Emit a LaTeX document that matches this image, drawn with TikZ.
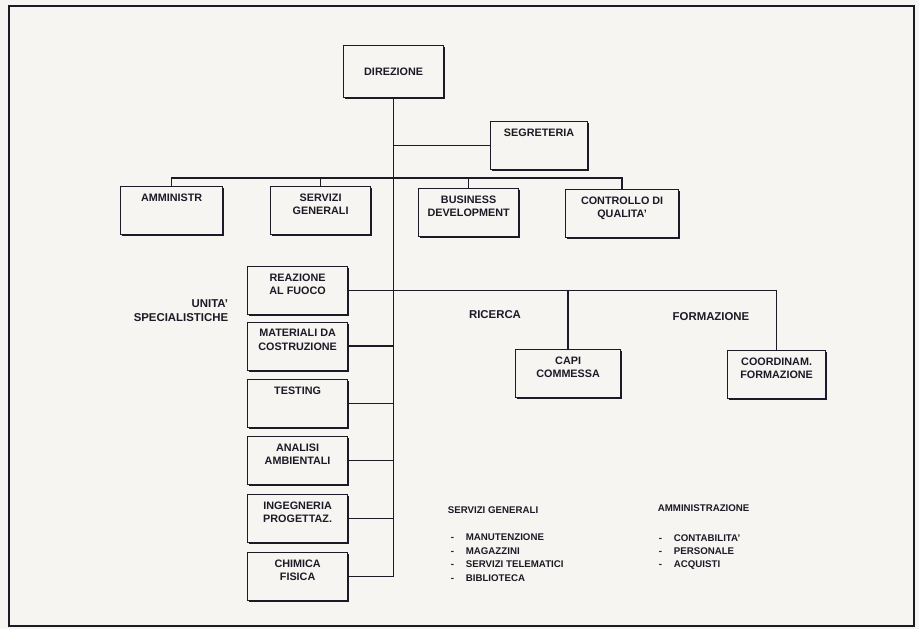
\documentclass[tikz,border=0pt]{standalone}
\usepackage{fontspec}
\setmainfont{Liberation Sans}
\usetikzlibrary{positioning,shadows}
\definecolor{paper}{RGB}{247,245,241}
\definecolor{ink}{RGB}{28,26,38}
\newcommand{\ut}[1]{\begin{tabular}[t]{@{}c@{}}#1\end{tabular}}
\newcommand{\lt}[1]{\begin{tabular}[t]{@{}l@{}}#1\end{tabular}}
\newcommand{\rt}[1]{\begin{tabular}[t]{@{}r@{}}#1\end{tabular}}
\newcommand{\dash}{\makebox[15pt][l]{-}}

\begin{document}
\begin{tikzpicture}[x=1pt,y=-1pt,line width=1.7pt,color=ink,
    unit/.style={draw,line width=1.2pt,fill=paper,anchor=north west,
      minimum width=100pt,minimum height=48pt,inner ysep=7pt,
      text height=7.8pt,text depth=26.2pt,
      font=\bfseries\fontsize{10.8}{13.2}\selectfont,
      general shadow={fill=ink,shadow xshift=1.6pt,shadow yshift=-1.6pt}},
    head/.style={unit,text depth=0pt,minimum height=52pt},
    lbl/.style={font=\bfseries\fontsize{11.4}{14}\selectfont,inner sep=0pt},
    lst/.style={font=\bfseries\fontsize{9.7}{13.5}\selectfont,inner sep=0pt,
      anchor=base west}]

    \fill[paper] (0,0) rectangle (919,629);
    \useasboundingbox (0,0) rectangle (919,629);
    \draw[line width=1.8pt] (9,6) rectangle (914,626);

    % vertici
    \node[head] (dir) at (343,45) {DIREZIONE};
    \node[unit,minimum width=97pt] (segr) at (490,121) {SEGRETERIA};

    \node[unit,minimum width=102pt] (amm) at (120,186) {AMMINISTR};
    \node[unit] (serv) at (270,186) {\ut{SERVIZI\\GENERALI}};
    \node[unit] (busi) at (418,188) {\ut{BUSINESS\\DEVELOPMENT}};
    \node[unit,minimum width=113pt] (ctrl) at (565,189) {\ut{CONTROLLO DI\\QUALITA'}};

    % unita' specialistiche
    \node[unit] (reaz) at (247,266) {\ut{REAZIONE\\AL FUOCO}};
    \node[unit] (mat) at (247,321.5) {\ut{MATERIALI DA\\COSTRUZIONE}};
    \node[unit] (test) at (247,379) {TESTING};
    \node[unit] (anal) at (247,436) {\ut{ANALISI\\AMBIENTALI}};
    \node[unit] (ing) at (247,494) {\ut{INGEGNERIA\\PROGETTAZ.}};
    \node[unit] (chim) at (247,552) {\ut{CHIMICA\\FISICA}};

    \node[unit,minimum width=105pt] (capi) at (515,349) {\ut{CAPI\\COMMESSA}};
    \node[unit,minimum width=98pt] (coord) at (727,350) {\ut{COORDINAM.\\FORMAZIONE}};

    % etichette
    \node[lbl,anchor=base east] (unita) at (229,307) {\rt{UNITA'\\SPECIALISTICHE}};
    \node[lbl] (ric) at (495,315) {RICERCA};
    \node[lbl] (form) at (711,317) {FORMAZIONE};

    \node[lst] (sgtit) at (447,513.5) {SERVIZI GENERALI};
    \node[lst] (sglist) at (450,540.5) {\lt{\dash MANUTENZIONE\\
      \dash MAGAZZINI\\ \dash SERVIZI TELEMATICI\\ \dash BIBLIOTECA}};

    \node[lst] (amtit) at (657,511.5) {AMMINISTRAZIONE};
    \node[lst,font=\bfseries\fontsize{9.7}{13}\selectfont] (amlist) at (658,541.5)
      {\lt{\dash CONTABILITA'\\ \dash PERSONALE\\ \dash ACQUISTI}};

    % collegamenti
    \coordinate (bus) at (393,178);
    \draw (dir.south) -- (dir.south |- chim.east);
    \draw (segr.west) -- (dir.south |- segr.west);
    \draw (amm.north) |- (bus) -| (ctrl.north);
    \draw (serv.north) -- (serv.north |- bus);
    \draw (busi.north) -- (busi.north |- bus);
    \draw (reaz.east) -| (coord.north);
    \draw (capi.north) -- (capi.north |- reaz.east);
    \foreach \n in {mat,test,anal,ing,chim}
      \draw (\n.east) -- (dir.south |- \n.east);

\end{tikzpicture}
\end{document}
